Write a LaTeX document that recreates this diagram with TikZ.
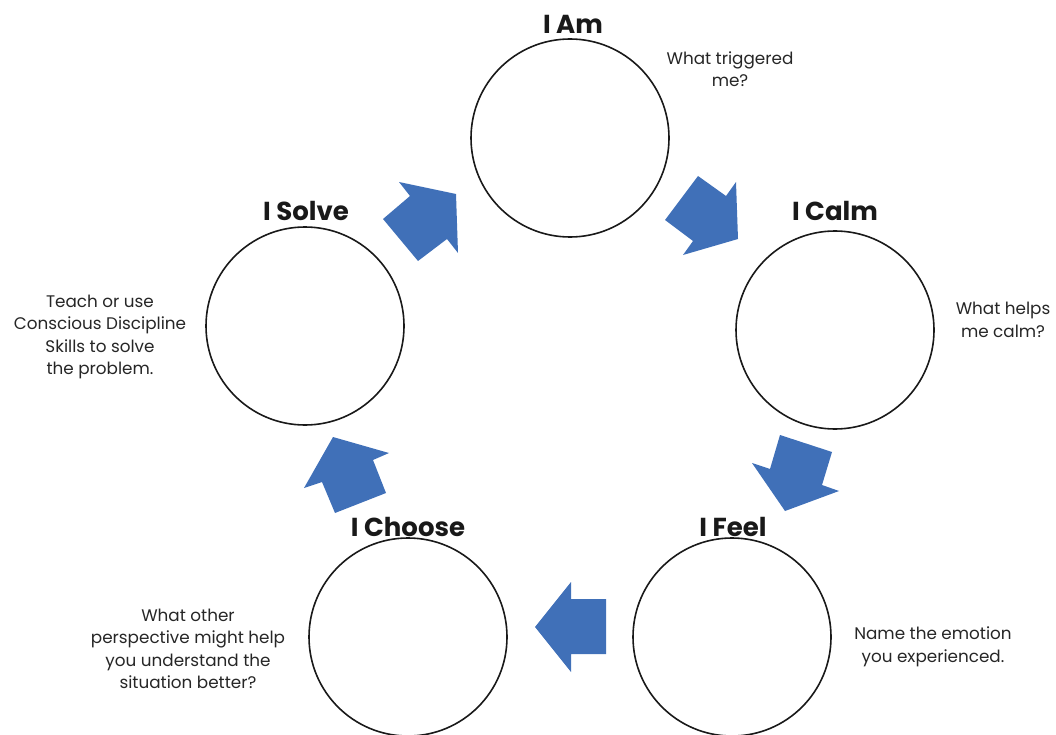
\documentclass[tikz,border=0pt]{standalone}
\usepackage{fontspec}
\setmainfont{Poppins}
\begin{document}
\begin{tikzpicture}[x=1pt,y=-1pt,
  ring/.style={circle,draw=black!90,line width=1.6pt,minimum size=198pt,inner sep=0pt},
  title/.style={font=\fontsize{26}{30}\selectfont\bfseries,text=black!90,inner sep=0pt},
  note/.style={font=\fontsize{16.8}{22.5}\selectfont,text=black!85,align=center,inner sep=0pt},
  blk/.style={fill={rgb,255:red,64;green,112;blue,184}}]
\useasboundingbox (0,0) rectangle (1056,735);
% circles
\node[ring] (am) at (570,138) {};
\node[ring] (calm) at (835,330) {};
\node[ring] (feel) at (732,637) {};
\node[ring] (choose) at (408,637) {};
\node[ring] (solve) at (305,326) {};
% titles
\node[title] (tam) at (573,24) {I Am};
\node[title] (tcalm) at (835,211) {I Calm};
\node[title] (tfeel) at (733,527) {I Feel};
\node[title] (tchoose) at (408,527) {I Choose};
\node[title] (tsolve) at (306,211) {I Solve};
% notes
\node[note] (nam) at (730,69) {What triggered\\me?};
\node[note] (ncalm) at (1003,320) {What helps\\me calm?};
\node[note] (nfeel) at (933,647) {Name the emotion\\you experienced.};
\node[note] (nchoose) at (188,649) {What other\\perspective might help\\you understand the\\situation better?};
\node[note] (nsolve) at (100,337) {Teach or use\\Conscious Discipline\\Skills to solve\\the problem.};
% arrows
\fill[blk] (399,182) -- (456,194) -- (458,253) -- (447,239) -- (418,261) -- (383,219) -- (410,196) -- cycle;
\fill[blk] (698,176) -- (726,196) -- (736,182) -- (738,239) -- (683,255) -- (693,241) -- (665,220) -- cycle;
\fill[blk] (780,435) -- (832,452) -- (822,485) -- (839,491) -- (785,511) -- (752,463) -- (770,469) -- cycle;
\fill[blk] (571,582) -- (571,599) -- (606,599) -- (606,654) -- (571,654) -- (571,672) -- (535,627) -- cycle;
\fill[blk] (333,437) -- (389,453) -- (373,460) -- (386,493) -- (335,513) -- (322,482) -- (304,488) -- cycle;
\end{tikzpicture}
\end{document}
